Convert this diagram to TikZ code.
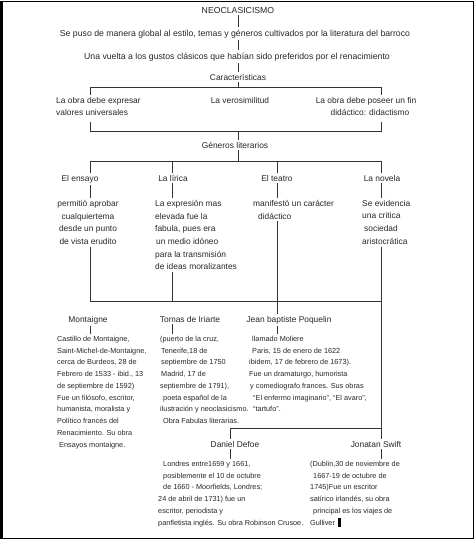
\documentclass[tikz,border=0pt]{standalone}
\usepackage{fontspec}
\setmainfont{Liberation Sans}
\begin{document}
\begin{tikzpicture}[x=1pt,y=-1pt,
  txt/.style={font=\fontsize{8.4}{12.7}\selectfont,inner xsep=0pt,inner ysep=2pt,text=black!85},
  blk/.style={txt,align=left,font=\fontsize{7.3}{11.75}\selectfont},
  lin/.style={draw=black!80,line width=0.8pt}]
\useasboundingbox (0,0) rectangle (476,542);
\draw[line width=1pt] (1.5,1) rectangle (473,538.5);
\draw[line width=2.5pt] (1.25,0.5) -- (1.25,539.3);
\draw[line width=1.6pt] (0,538.5) -- (473.5,538.5);

\coordinate (xe) at (90,0);
\coordinate (xl) at (172,0);
\coordinate (xt) at (277,0);
\coordinate (xn) at (381,0);

\node[txt,anchor=base,font=\fontsize{8.7}{10}\selectfont] (neo) at (238,13) {NEOCLASICISMO};
\node[txt,anchor=base,font=\fontsize{8.7}{10}\selectfont] (puso) at (235,36) {Se puso de manera global al estilo, temas y géneros cultivados por la literatura del barroco};
\node[txt,anchor=base,font=\fontsize{8.7}{10}\selectfont] (vuelta) at (237,59) {Una vuelta a los gustos clásicos que habían sido preferidos por el renacimiento};
\node[txt,anchor=base] (carac) at (238,80) {Características};
\draw[lin] (neo.south) -- (neo.south |- puso.north);
\draw[lin] (neo.south |- puso.south) -- (neo.south |- vuelta.north);
\draw[lin] (neo.south |- vuelta.south) -- (neo.south |- carac.north);

\node[txt,align=left,anchor=north west] (exp) at (56,95) {La obra debe expresar\\valores universales};
\node[txt,anchor=base] (vero) at (240,103) {La verosimilitud};
\node[txt,align=center,anchor=north] (fin) at (366,95) {La obra debe poseer un fin\\\hspace*{8pt}didáctico: didactismo};
\coordinate (kl) at (90,87);
\coordinate (kr) at (381,87);
\draw[lin] (carac.south) -- (carac.south |- kl);
\draw[lin] (kl |- exp.north) -- (kl) -- (kr) -- (kr |- fin.north);

\node[txt,anchor=base] (gen) at (235,148) {Géneros literarios};
\coordinate (ml) at (90,131);
\coordinate (mr) at (381,131);
\coordinate (ml0) at (90,122);
\coordinate (mr0) at (381,122);
\draw[lin] (ml0) -- (ml) -- (mr) -- (mr0);
\draw[lin] (carac.south |- ml) -- (carac.south |- gen.north);

\coordinate (gl) at (90,161);
\coordinate (gr) at (381,161);
\draw[lin] (carac.south |- gen.south) -- (carac.south |- gl);
\draw[lin] (gl) -- (gr);

\node[txt,anchor=base] (ensayo) at (80,181) {El ensayo};
\node[txt,anchor=base] (lirica) at (173,181) {La lírica};
\node[txt,anchor=base] (teatro) at (277,181) {El teatro};
\node[txt,anchor=base] (novela) at (382,181) {La novela};
\draw[lin] (gl) -- (xe |- ensayo.north);
\draw[lin] (gl -| xl) -- (xl |- lirica.north);
\draw[lin] (gl -| xt) -- (xt |- teatro.north);
\draw[lin] (gr) -- (xn |- novela.north);

\node[txt,align=center,anchor=north] (ensayotx) at (88,198) {permitió aprobar\\cualquiertema\\desde un punto\\de vista erudito};
\node[txt,align=left,anchor=north west] (liricatx) at (155,198) {La expresión mas\\elevada fue la\\fabula, pues era\\\hspace*{1pt}un medio idóneo\\para la transmisión\\de ideas moralizantes};
\node[txt,align=left,anchor=north west] (teatrotx) at (253,198) {manifestó un carácter\\\hspace*{5pt}didáctico};
\node[txt,align=left,anchor=north west] (novelatx) at (362,198) {Se evidencia\\una critica\\\hspace*{2pt}sociedad\\aristocrática};
\draw[lin] (xe |- ensayo.south) -- (xe |- ensayotx.north);
\draw[lin] (xl |- lirica.south) -- (xl |- liricatx.north);
\draw[lin] (xt |- teatro.south) -- (xt |- teatrotx.north);
\draw[lin] (xn |- novela.south) -- (xn |- novelatx.north);

\coordinate (hl) at (90,301);
\coordinate (hr) at (381,301);
\node[txt,anchor=base] (montaigne) at (88,322) {Montaigne};
\node[txt,anchor=base] (iriarte) at (190,322) {Tomas de Iriarte};
\node[txt,anchor=base] (poquelin) at (289,322) {Jean baptiste Poquelin};
\draw[lin] (xe |- ensayotx.south) -- (hl);
\draw[lin] (xl |- liricatx.south) -- (xl |- hl);
\draw[lin] (xt |- teatrotx.south) -- (xt |- poquelin.north);
\draw[lin] (hl) -- (hr);

\node[blk,anchor=north west] (montx) at (57,334) {Castillo de Montaigne,\\Saint-Michel-de-Montaigne,\\cerca de Burdeos, 28 de\\Febrero de 1533 - ibid., 13\\de septiembre de 1592)\\Fue un filósofo, escritor,\\humanista, moralista y\\Político francés del\\Renacimiento. Su obra\\\hspace*{2pt}Ensayos montaigne.};
\node[blk,anchor=north west] (iriartetx) at (160,334) {(puerto de la cruz,\\\hspace*{1pt}Tenerife,18 de\\\hspace*{1pt}septiembre de 1750\\\hspace*{1pt}Madrid, 17 de\\septiembre de 1791),\\\hspace*{3pt}poeta español de la\\ilustración y neoclasicismo.\\\hspace*{3pt}Obra Fabulas literarias.};
\node[blk,anchor=north west] (poquelintx) at (249,334) {\hspace*{3pt}llamado Moliere\\\hspace*{3pt}Paris, 15 de enero de 1622\\ibidem, 17 de febrero de 1673).\\Fue un dramaturgo, humorista\\\hspace*{1pt}y comediografo frances. Sus obras\\\hspace*{4pt}``El enfermo imaginario'', ``El avaro'',\\\hspace*{4pt}``tartufo''.};
\draw[lin] (xe |- montaigne.south) -- (xe |- montx.north);
\draw[lin] (xl |- iriarte.south) -- (xl |- iriartetx.north);
\draw[lin] (xt |- poquelin.south) -- (xt |- poquelintx.north);

\coordinate (sl) at (230,428);
\node[txt,anchor=base] (defoe) at (235,447) {Daniel Defoe};
\node[txt,anchor=base] (swift) at (376,447) {Jonatan Swift};
\draw[lin] (xn |- novelatx.south) -- (xn |- swift.north);
\draw[lin] (sl |- defoe.north) -- (sl) -- (xn |- sl);

\node[blk,anchor=north west] (defoetx) at (158,459) {\hspace*{5pt}Londres entre1659 y 1661,\\\hspace*{5pt}posiblemente el 10 de octubre\\\hspace*{5pt}de 1660 - Moorfields, Londres;\\24 de abril de 1731) fue un\\escritor, periodista y\\panfletista inglés. Su obra Robinson Crusoe.};
\node[blk,anchor=north west] (swifttx) at (310,459) {(Dublin,30 de noviembre de\\\hspace*{3pt}1667-19 de octubre de\\1745)Fue un escritor\\satírico irlandés, su obra\\\hspace*{3pt}principal es los viajes de\\Gulliver};
\draw[lin] (sl |- defoe.south) -- (sl |- defoetx.north);
\draw[lin] (xn |- swift.south) -- (xn |- swifttx.north);
\fill (338,518) rectangle (341,527);

\end{tikzpicture}
\end{document}
